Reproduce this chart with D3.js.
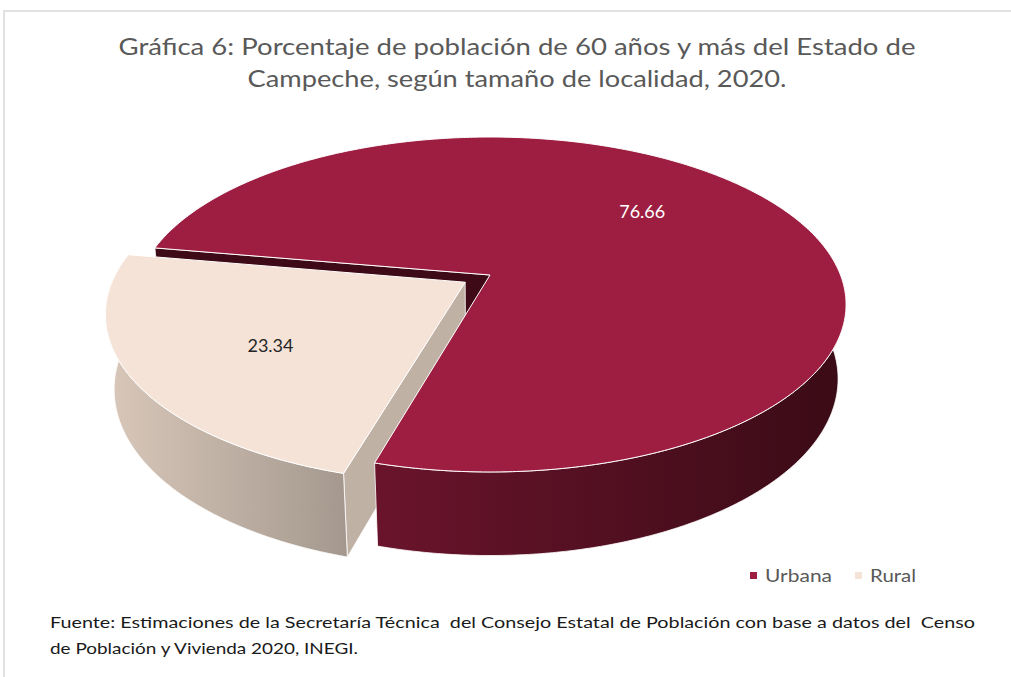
<!DOCTYPE html>
<html>
<head>
<meta charset="utf-8">
<script src="https://cdn.jsdelivr.net/npm/d3@7"></script>
<style>
  body { margin: 0; background: #fff; }
  text { font-family: "Lato", "DejaVu Sans", sans-serif; }
  .source { white-space: pre; }
</style>
</head>
<body>
<div id="chart-area"></div>
<script>
// data
var categories = ["Urbana", "Rural"];
var values = [76.66, 23.34];
var labels = ["76.66", "23.34"];
var titleLines = ["Gráfica 6: Porcentaje de población de 60 años y más del Estado de",
                  "Campeche, según tamaño de localidad, 2020."];
var sourceLines = ["Fuente: Estimaciones de la Secretaría Técnica  del Consejo Estatal de Población con base a datos del  Censo",
                   "de Población y Vivienda 2020, INEGI."];

var W = 1011, H = 677;
var svg = d3.select("#chart-area").append("svg")
	.attr("width", W)
	.attr("height", H);

// chart border
svg.append("rect")
	.attr("x", 4).attr("y", 11)
	.attr("width", 1030).attr("height", 700)
	.attr("fill", "none")
	.attr("stroke", "#d9d9d9")
	.attr("stroke-width", 1.5);

// title
svg.selectAll(".title").data(titleLines).enter()
	.append("text")
	.attr("class", "title")
	.attr("x", 517)
	.attr("y", (d, i) => 55 + i * 32)
	.attr("text-anchor", "middle")
	.attr("font-size", "24px")
	.attr("fill", "#595959")
	.attr("textLength", (d, i) => i == 0 ? 797 : 539)
	.attr("lengthAdjust", "spacingAndGlyphs")
	.text(d => d);

// 3d projection of the pie plane (radius 1)
var cx = 490, cy = 275, focal = 1764, dist = 5.033;
var tilt = Math.asin(0.463);
var sT = Math.sin(tilt), cT = Math.cos(tilt);
var thick = 0.2417;
function project(u, v, h) {
	var depth = dist + v * cT - h * sT;
	var up = v * sT + h * cT;
	return [cx + focal * u / depth, cy - focal * up / depth];
}

var explode = {"Rural": 0.083};
var colors = {
	"Urbana": {top: "#9e1e42", face: "#3f0a17", wall: ["#6a142c", "#3a0b16"]},
	"Rural":  {top: "#f5e3d7", face: "#c0b1a5", wall: ["#d9c8ba", "#a4988e"]}
};

var pie = d3.pie().sort(null)
	.startAngle(-80.1 * Math.PI / 180)
	.endAngle(-80.1 * Math.PI / 180 + 2 * Math.PI);
var slices = pie(values).map((d, i) => {
	var mid = (d.startAngle + d.endAngle) / 2;
	var e = explode[categories[i]] || 0;
	d.name = categories[i];
	d.label = labels[i];
	d.du = e * Math.sin(mid);
	d.dv = e * Math.cos(mid);
	return d;
});

function pt(d, a, r, h) {
	return project(d.du + r * Math.sin(a), d.dv + r * Math.cos(a), h);
}
function arcPts(d, a0, a1, h) {
	var n = Math.max(2, Math.ceil(Math.abs(a1 - a0) / 0.01));
	return d3.range(n + 1).map(k => pt(d, a0 + (a1 - a0) * k / n, 1, h));
}
var line = d3.line();

var defs = svg.append("defs");
var pieG = svg.append("g");

// radial faces that point toward the viewer
slices.forEach(d => {
	[[d.startAngle, Math.sin(d.startAngle) < 0], [d.endAngle, Math.sin(d.endAngle) > 0]].forEach(f => {
		if (!f[1]) return;
		var a = f[0];
		var poly = [pt(d, a, 0, 0), pt(d, a, 1, 0), pt(d, a, 1, -thick), pt(d, a, 0, -thick)];
		pieG.append("path")
			.attr("d", line(poly) + "Z")
			.attr("fill", colors[d.name].face)
			.attr("stroke", "#fff")
			.attr("stroke-width", 0.8)
			.attr("stroke-linejoin", "round");
	});
});

// outer walls (front half only)
slices.forEach((d, i) => {
	var lo = Math.max(d.startAngle, Math.PI / 2);
	var hi = Math.min(d.endAngle, 3 * Math.PI / 2);
	if (hi <= lo) return;
	var topE = arcPts(d, lo, hi, 0);
	var botE = arcPts(d, hi, lo, -thick);
	var xs = topE.concat(botE).map(p => p[0]);
	var gid = "wall" + i;
	var grad = defs.append("linearGradient")
		.attr("id", gid)
		.attr("gradientUnits", "userSpaceOnUse")
		.attr("x1", d3.min(xs)).attr("x2", d3.max(xs))
		.attr("y1", 0).attr("y2", 0);
	grad.append("stop").attr("offset", "0%").attr("stop-color", colors[d.name].wall[0]);
	grad.append("stop").attr("offset", "100%").attr("stop-color", colors[d.name].wall[1]);
	pieG.append("path")
		.attr("d", line(topE.concat(botE)) + "Z")
		.attr("fill", "url(#" + gid + ")")
		.attr("stroke", "#fff")
		.attr("stroke-width", 0.8)
		.attr("stroke-linejoin", "round");
});

// top surfaces
slices.forEach(d => {
	var poly = [pt(d, 0, 0, 0)].concat(arcPts(d, d.startAngle, d.endAngle, 0));
	pieG.append("path")
		.attr("d", line(poly) + "Z")
		.attr("fill", colors[d.name].top)
		.attr("stroke", "#fff")
		.attr("stroke-width", 1)
		.attr("stroke-linejoin", "round");
});

// data labels
slices.forEach(d => {
	var a = d.startAngle + 0.465 * (d.endAngle - d.startAngle);
	var p = pt(d, a, 0.625, 0);
	pieG.append("text")
		.attr("x", p[0]).attr("y", p[1])
		.attr("dy", "0.35em")
		.attr("text-anchor", "middle")
		.attr("font-family", "Liberation Sans, Arial, sans-serif")
		.attr("font-size", "18px")
		.attr("fill", d.name == "Urbana" ? "#ffffff" : "#262626")
		.text(d.label);
});

// legend
var legX = d3.scaleOrdinal().domain(categories).range([750, 855]);
var leg = svg.selectAll(".legend").data(categories).enter()
	.append("g")
	.attr("class", "legend")
	.attr("transform", d => "translate(" + legX(d) + ",576)");
leg.append("rect")
	.attr("x", 0).attr("y", -4)
	.attr("width", 7).attr("height", 7)
	.attr("fill", d => colors[d].top);
leg.append("text")
	.attr("x", 15).attr("y", 6)
	.attr("font-size", "18px")
	.attr("fill", "#595959")
	.attr("textLength", d => d == "Urbana" ? 67 : 46)
	.attr("lengthAdjust", "spacingAndGlyphs")
	.text(d => d);

// source note
svg.selectAll(".source").data(sourceLines).enter()
	.append("text")
	.attr("class", "source")
	.attr("x", 50)
	.attr("y", (d, i) => 628 + i * 26)
	.attr("font-size", "16px")
	.attr("fill", "#1a1a1a")
	.attr("textLength", (d, i) => i == 0 ? 925 : 308)
	.attr("lengthAdjust", "spacingAndGlyphs")
	.text(d => d);
</script>
</body>
</html>
